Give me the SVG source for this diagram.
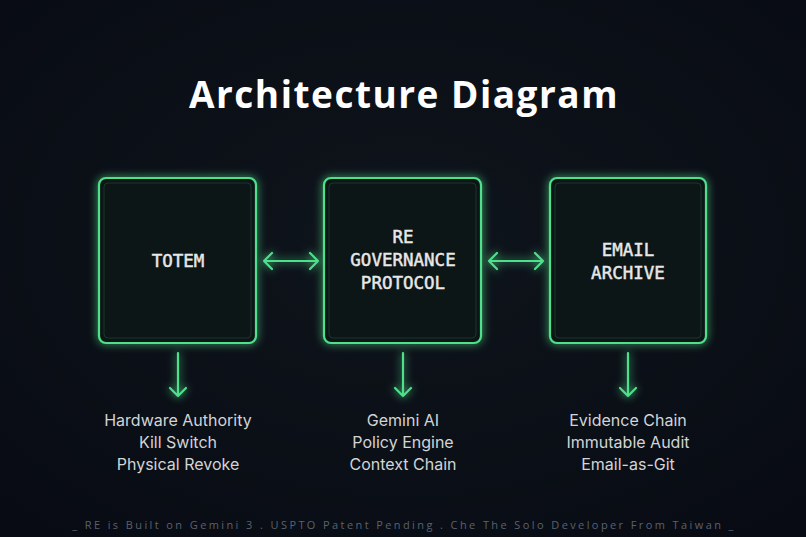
<svg xmlns="http://www.w3.org/2000/svg" width="806" height="537" viewBox="0 0 806 537">
<defs>
<style>
.title{font-family:"Open Sans",sans-serif;font-weight:700;font-size:37px;fill:#ffffff;letter-spacing:1.5px}
.nt{font-family:"DejaVu Sans Mono","Liberation Mono",monospace;font-weight:400;font-size:17.5px;fill:#e8e8e8;stroke:#e8e8e8;stroke-width:0.45;text-anchor:middle}
.lb{font-family:Inter,"Liberation Sans",sans-serif;font-size:16px;fill:#d2d4d6;text-anchor:middle}
.ft{font-family:"Open Sans",sans-serif;font-size:11px;fill:#5a6170;letter-spacing:2.4px}
.box{fill:#0e1817;stroke:#4fe08c;stroke-width:2.2}
.inner{fill:none;stroke:#2a5040;stroke-width:0.8;opacity:0.7}
.conn{fill:none;stroke:#4fe08c;stroke-width:2.2;stroke-linecap:round;stroke-linejoin:round}
.glow{filter:url(#g)}
</style>
<filter id="g" x="-30%" y="-30%" width="160%" height="160%">
<feGaussianBlur in="SourceGraphic" stdDeviation="4.5" result="b"/>
<feMerge><feMergeNode in="b"/><feMergeNode in="SourceGraphic"/></feMerge>
</filter>
<radialGradient id="bg" cx="0.5" cy="0.45" r="0.7">
<stop offset="0" stop-color="#0f151c"/>
<stop offset="1" stop-color="#080b13"/>
</radialGradient>
</defs>
<rect width="806" height="537" fill="url(#bg)"/>
<text class="title" x="404" y="108" text-anchor="middle">Architecture Diagram</text>

<g id="totem">
<rect class="box glow" x="99" y="178" width="157" height="165" rx="7"/>
<rect class="inner" x="104" y="183" width="147" height="155" rx="4"/>
<text class="nt" x="178" y="267">TOTEM</text>
</g>
<g id="re-governance">
<rect class="box glow" x="324" y="178" width="157" height="165" rx="7"/>
<rect class="inner" x="329" y="183" width="147" height="155" rx="4"/>
<text class="nt" x="403" y="243">RE</text>
<text class="nt" x="403" y="266">GOVERNANCE</text>
<text class="nt" x="403" y="289">PROTOCOL</text>
</g>
<g id="email-archive">
<rect class="box glow" x="550" y="178" width="156" height="165" rx="7"/>
<rect class="inner" x="555" y="183" width="146" height="155" rx="4"/>
<text class="nt" x="628" y="256">EMAIL</text>
<text class="nt" x="628" y="279">ARCHIVE</text>
</g>

<g id="connectors" class="glow">
<path class="conn" d="M264 261 H318 M272 253 L264 261 L272 269 M310 253 L318 261 L310 269"/>
<path class="conn" d="M489 261 H543 M497 253 L489 261 L497 269 M535 253 L543 261 L535 269"/>
<path class="conn" d="M178 353 V396 M170 388 L178 396 L186 388"/>
<path class="conn" d="M403 353 V396 M395 388 L403 396 L411 388"/>
<path class="conn" d="M628 353 V396 M620 388 L628 396 L636 388"/>
</g>

<g id="totem-labels">
<text class="lb" x="178" y="426">Hardware Authority</text>
<text class="lb" x="178" y="448">Kill Switch</text>
<text class="lb" x="178" y="470">Physical Revoke</text>
</g>
<g id="re-labels">
<text class="lb" x="403" y="426">Gemini AI</text>
<text class="lb" x="403" y="448">Policy Engine</text>
<text class="lb" x="403" y="470">Context Chain</text>
</g>
<g id="email-labels">
<text class="lb" x="628" y="426">Evidence Chain</text>
<text class="lb" x="628" y="448">Immutable Audit</text>
<text class="lb" x="628" y="470">Email-as-Git</text>
</g>

<text class="ft" x="404" y="529" text-anchor="middle">_ RE is Built on Gemini 3 . USPTO Patent Pending . Che The Solo Developer From Taiwan _</text>
</svg>
